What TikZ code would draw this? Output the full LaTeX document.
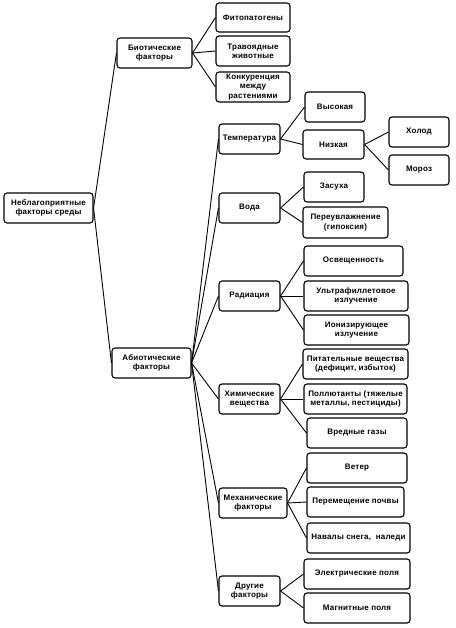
\documentclass[tikz,border=0pt]{standalone}
\usepackage{fontspec}
\setmainfont{Liberation Sans}[LetterSpace=2.5]
\usepackage{tikz}

\tikzset{
    factor/.style={draw, line width=1.1pt, rounded corners=3pt,
        inner sep=0pt, align=center, font=\fontsize{8}{9.4}\selectfont\bfseries},
    link/.style={line width=0.9pt}
}

\begin{document}
\begin{tikzpicture}[x=1pt, y=-1pt]

% Page frame of the reference (pixels, y down).
\useasboundingbox (0,0) rectangle (455,628);

% Place every factor box: name / centre x / centre y / width / height / text.
\foreach \n/\x/\y/\w/\h/\t in {
    root/48.5/208/89/30/{Неблагоприятные\\факторы среды},
    bio/154.5/53/75/30/{Биотические\\факторы},
    abio/151.5/363/79/30/{Абиотические\\факторы},
    fito/253/17.5/74/29/{Фитопатогены},
    trav/253/51/74/30/{Травоядные\\животные},
    konk/253/87/74/30/{Конкуренция\\между\\растениями},
    temp/249.5/139/61/30/{Температура},
    vys/335/107/60/30/{Высокая},
    niz/333.5/144.5/61/29/{Низкая},
    khol/419/132/60/30/{Холод},
    moroz/419/170/60/30/{Мороз},
    voda/249.5/208/61/30/{Вода},
    zas/334/187/60/30/{Засуха},
    pereuv/345.5/222.5/85/31/{Переувлажнение\\(гипоксия)},
    rad/249.5/296/61/30/{Радиация},
    osv/353.5/261/99/30/{Освещенность},
    ultra/356/296/104/30/{Ультрафиллетовое\\излучение},
    ion/356.5/330/105/30/{Ионизирующее\\излучение},
    khim/249.5/399/61/30/{Химические\\вещества},
    pit/355.5/364/105/30/{Питательные вещества\\(дефицит, избыток)},
    poll/355.5/399/103/30/{Поллютанты (тяжелые\\металлы, пестициды)},
    vred/357/433/100/30/{Вредные газы},
    mekh/253/503/68/30/{Механические\\факторы},
    veter/357/468/100/30/{Ветер},
    perem/355.5/502/97/30/{Перемещение почвы},
    naval/358.5/538/103/30/{Навалы снега,~ наледи},
    drug/249.5/591/61/30/{Другие\\факторы},
    elek/357/574/106/30/{Электрические поля},
    magn/357/608/106/30/{Магнитные поля}} {
    \node[factor, minimum width=\w pt, minimum height=\h pt] (\n) at (\x,\y) {\t};
}

% Tree links: parent east side to child west side.
\foreach \a/\b in {
    root/bio, root/abio,
    bio/fito, bio/trav, bio/konk,
    abio/temp, abio/voda, abio/rad, abio/khim, abio/mekh, abio/drug,
    temp/vys, temp/niz, niz/khol, niz/moroz,
    voda/zas, voda/pereuv,
    rad/osv, rad/ultra, rad/ion,
    khim/pit, khim/poll, khim/vred,
    mekh/veter, mekh/perem, mekh/naval,
    drug/elek, drug/magn} {
    \draw[link] (\a.east) -- (\b.west);
}

\end{tikzpicture}
\end{document}
